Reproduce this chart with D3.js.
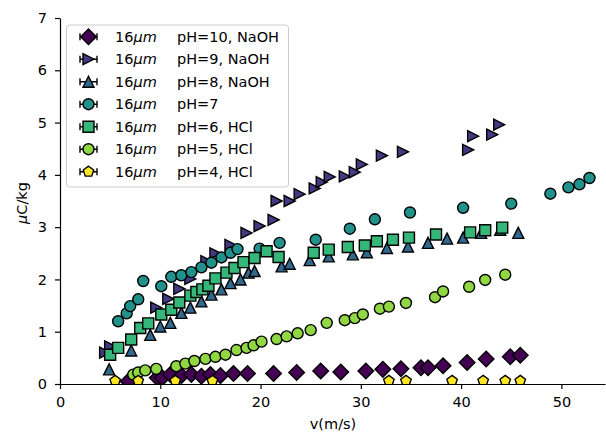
<!DOCTYPE html>
<html>
<head>
<meta charset="utf-8">
<script src="https://cdn.jsdelivr.net/npm/d3@7"></script>
<style>
  body { margin: 0; background: #fff; }
  svg { display: block; }
  text { font-family: "DejaVu Sans", sans-serif; }
</style>
</head>
<body>
<svg id="chart" width="606" height="433"></svg>
<script>
/*--- Data (v in m/s, charge in uC/kg) ---*/
const ph10 = [[6.8,0.05],[9.7,0.12],[10.2,0.12],[11.0,0.18],[12.1,0.16],[13.1,0.18],[14.1,0.15],[15.0,0.18],
  [16.0,0.16],[17.3,0.20],[18.7,0.20],[21.3,0.20],[23.6,0.22],[26.0,0.25],[28.0,0.23],[30.5,0.25],
  [32.2,0.28],[34.0,0.29],[36.0,0.31],[36.7,0.31],[38.2,0.35],[40.6,0.41],[42.5,0.48],[44.9,0.52],[45.9,0.55]];
const ph9 = [[4.5,0.60],[5.0,0.72],[9.6,1.46],[10.8,1.63],[11.9,1.82],[13.0,2.01],[14.6,2.35],[15.5,2.50],
  [17.0,2.66],[18.6,2.89],[19.9,3.02],[21.3,3.14],[21.6,3.50],[22.9,3.50],[23.9,3.63],[25.4,3.74],
  [26.1,3.86],[26.9,3.96],[28.4,3.97],[29.4,4.05],[30.1,4.20],[32.1,4.37],[34.2,4.44],[40.7,4.48],
  [41.2,4.74],[43.1,4.77],[43.8,4.96]];
const ph8 = [[4.9,0.28],[7.1,0.64],[9.0,0.94],[10.0,1.10],[11.0,1.17],[12.1,1.36],[13.0,1.46],[14.1,1.58],
  [15.1,1.71],[16.1,1.81],[17.0,1.93],[18.0,2.00],[18.8,2.13],[19.4,2.16],[22.1,2.25],[22.9,2.30],
  [24.9,2.37],[26.8,2.44],[29.2,2.48],[30.6,2.52],[32.6,2.60],[34.7,2.63],[36.7,2.70],[38.6,2.78],
  [40.2,2.80],[42.0,2.89],[43.9,2.95],[45.7,2.89]];
const ph7 = [[5.8,1.20],[6.65,1.35],[7.0,1.49],[7.8,1.62],[8.3,1.97],[10.1,1.87],[11.1,2.05],[12.1,2.08],
  [13.1,2.14],[14.1,2.23],[15.1,2.32],[16.1,2.42],[17.0,2.51],[17.7,2.58],[19.9,2.59],[21.9,2.70],
  [25.5,2.76],[28.9,2.97],[31.4,3.15],[34.9,3.28],[40.2,3.37],[45.0,3.45],[48.9,3.64],[50.7,3.76],
  [51.8,3.82],[52.8,3.94]];
const ph6 = [[5.0,0.56],[5.8,0.69],[7.1,0.85],[8.0,1.07],[8.8,1.16],[10.1,1.33],[11.1,1.42],[11.9,1.56],
  [13.0,1.69],[13.6,1.76],[14.2,1.81],[14.8,1.88],[15.5,2.02],[16.6,2.13],[17.4,2.22],[18.3,2.33],
  [19.4,2.41],[20.6,2.54],[21.8,2.43],[25.3,2.51],[26.8,2.57],[28.7,2.62],[30.4,2.65],[31.6,2.73],
  [33.2,2.76],[34.8,2.80],[37.5,2.86],[40.9,2.90],[42.4,2.94],[44.1,2.99]];
const ph5 = [[7.3,0.18],[7.8,0.22],[8.5,0.26],[9.6,0.29],[11.6,0.34],[12.5,0.39],[13.4,0.44],[14.5,0.48],
  [15.5,0.52],[16.5,0.56],[17.6,0.65],[18.6,0.69],[19.3,0.74],[20.1,0.81],[21.6,0.86],[22.6,0.91],
  [23.7,0.97],[25.0,1.03],[26.6,1.17],[28.4,1.22],[29.4,1.26],[30.2,1.33],[31.9,1.44],[32.8,1.48],
  [34.5,1.55],[37.4,1.66],[38.2,1.77],[40.8,1.86],[42.4,1.99],[44.4,2.09]];
const ph4 = [[5.5,0.06],[7.8,0.06],[11.5,0.06],[15.2,0.06],[32.8,0.06],[34.5,0.06],[39.1,0.06],
  [42.2,0.06],[44.4,0.06],[45.9,0.06]];

const sizeLabels = ["16", "16", "16", "16", "16", "16", "16"];
const phLabels = ["pH=10, NaOH", "pH=9, NaOH", "pH=8, NaOH", "pH=7", "pH=6, HCl", "pH=5, HCl", "pH=4, HCl"];
const xTicks = [0, 10, 20, 30, 40, 50];
const yTicks = [0, 1, 2, 3, 4, 5, 6, 7];

/*--- Marker shapes (size = marker size in px) ---*/
const shapes = {
    circle: { draw(c, s) { const r = s / 2; c.moveTo(r, 0); c.arc(0, 0, r, 0, 2 * Math.PI); } },
    square: { draw(c, s) { const h = s / 2; c.rect(-h, -h, s, s); } },
    diamond: { draw(c, s) { const h = s * Math.SQRT1_2; c.moveTo(0, -h); c.lineTo(h, 0); c.lineTo(0, h); c.lineTo(-h, 0); c.closePath(); } },
    triUp: { draw(c, s) { const h = s / 2; c.moveTo(0, -h); c.lineTo(h, h); c.lineTo(-h, h); c.closePath(); } },
    triRight: { draw(c, s) { const h = s / 2; c.moveTo(h, 0); c.lineTo(-h, h); c.lineTo(-h, -h); c.closePath(); } },
    pentagon: { draw(c, s) {
        const r = s / 2;
        for (let k = 0; k < 5; k++) {
            const a = -Math.PI / 2 + k * 2 * Math.PI / 5;
            if (k === 0) c.moveTo(r * Math.cos(a), r * Math.sin(a)); else c.lineTo(r * Math.cos(a), r * Math.sin(a));
        }
        c.closePath();
    } }
};

const series = [
    { data: ph10, shape: shapes.diamond, color: "#440154" },
    { data: ph9, shape: shapes.triRight, color: "#443983" },
    { data: ph8, shape: shapes.triUp, color: "#31688e" },
    { data: ph7, shape: shapes.circle, color: "#21918c" },
    { data: ph6, shape: shapes.square, color: "#35b779" },
    { data: ph5, shape: shapes.circle, color: "#90d743" },
    { data: ph4, shape: shapes.pentagon, color: "#fde725" }
];

const MS = 11;
const FS = 14.5;
const svg = d3.select("#chart");
const xScale = d3.scaleLinear().domain([0, 54.35]).range([60, 605]);
const yScale = d3.scaleLinear().domain([0, 7]).range([384, 18]);

svg.append("clipPath").attr("id", "plotclip")
    .append("rect").attr("x", 60).attr("y", 18).attr("width", 546).attr("height", 366);

/*--- Points ---*/
const plot = svg.append("g").attr("clip-path", "url(#plotclip)");
series.forEach(function (s) {
    plot.append("g").selectAll("path")
        .data(s.data).join("path")
        .attr("transform", d => `translate(${xScale(d[0])},${yScale(d[1])})`)
        .attr("d", d3.symbol().type(s.shape).size(MS))
        .attr("fill", s.color)
        .attr("stroke", "#000")
        .attr("stroke-width", 1.4);
});

/*--- Axes ---*/
const xAxis = svg.append("g")
    .attr("transform", "translate(0,384)")
    .call(d3.axisBottom(xScale).tickValues(xTicks).tickFormat(d3.format("d"))
        .tickSize(5).tickPadding(8).tickSizeOuter(0));
const yAxis = svg.append("g")
    .attr("transform", "translate(60,0)")
    .call(d3.axisLeft(yScale).tickValues(yTicks).tickFormat(d3.format("d"))
        .tickSize(5).tickPadding(8).tickSizeOuter(0));
[xAxis, yAxis].forEach(function (ax) {
    ax.attr("font-size", FS).attr("font-family", "DejaVu Sans");
    ax.selectAll(".domain").attr("stroke-width", 1.2);
    ax.selectAll(".tick line").attr("stroke-width", 1.2);
    ax.selectAll(".tick text").attr("fill", "#000");
});

svg.append("text")
    .attr("x", 333).attr("y", 429)
    .attr("text-anchor", "middle").attr("font-size", FS)
    .text("v(m/s)");

const yLabel = svg.append("text")
    .attr("transform", "translate(27,203) rotate(-90)")
    .attr("text-anchor", "middle").attr("font-size", FS);
yLabel.append("tspan").attr("font-style", "italic").text("\u03bc");
yLabel.append("tspan").text("C/kg");

/*--- Legend ---*/
const legend = svg.append("g");
legend.append("rect")
    .attr("x", 66.5).attr("y", 25).attr("width", 222).attr("height", 162)
    .attr("rx", 3)
    .attr("fill", "#fff").attr("fill-opacity", 0.8)
    .attr("stroke", "#cccccc").attr("stroke-width", 1);

series.forEach(function (s, i) {
    const cy = 36.7 + 22.5 * i;
    const row = legend.append("g");
    row.append("path")
        .attr("d", `M80,${cy}H97M80,${cy - 3.5}V${cy + 3.5}M97,${cy - 3.5}V${cy + 3.5}`)
        .attr("stroke", "#000").attr("stroke-width", 1.4).attr("fill", "none");
    row.append("path")
        .attr("transform", `translate(88.5,${cy})`)
        .attr("d", d3.symbol().type(s.shape).size(MS))
        .attr("fill", s.color).attr("stroke", "#000").attr("stroke-width", 1.4);
    const t1 = row.append("text").attr("x", 115).attr("y", cy + 5).attr("font-size", FS);
    t1.append("tspan").text(sizeLabels[i]);
    t1.append("tspan").attr("font-style", "italic").text("\u03bcm");
    row.append("text").attr("x", 177).attr("y", cy + 5).attr("font-size", FS).text(phLabels[i]);
});
</script>
</body>
</html>
